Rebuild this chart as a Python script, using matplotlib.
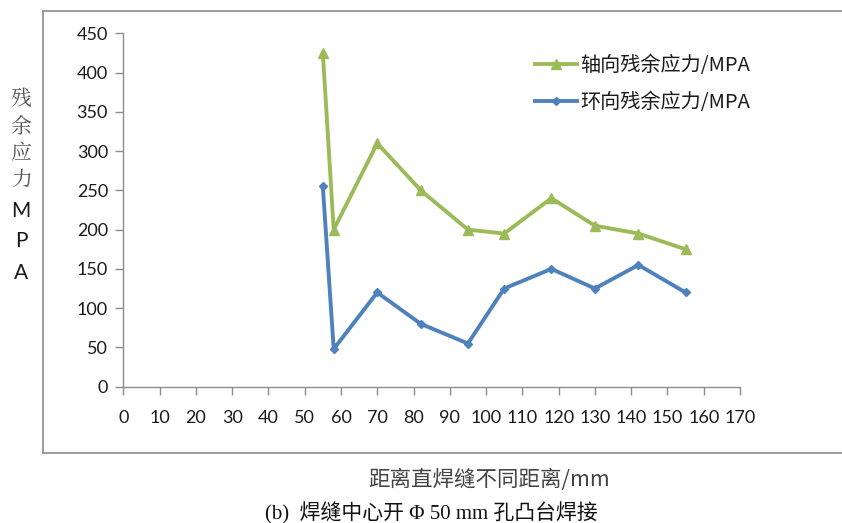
import matplotlib
matplotlib.use("Agg")
import matplotlib.pyplot as plt

# Data
x_axial = [55, 58, 70, 82, 95, 105, 118, 130, 142, 155]
y_axial = [425, 200, 310, 250, 200, 195, 240, 205, 195, 175]
x_hoop = [55, 58, 70, 82, 95, 105, 118, 130, 142, 155]
y_hoop = [255, 48, 120, 80, 55, 125, 150, 125, 155, 120]
label_axial = "轴向残余应力/MPA"
label_hoop = "环向残余应力/MPA"
ylabel_chars = ["残", "余", "应", "力", "M", "P", "A"]
xlabel = "距离直焊缝不同距离/mm"
caption = "(b)  焊缝中心开 Φ 50 mm 孔凸台焊接"
xticks = list(range(0, 171, 10))
yticks = list(range(0, 451, 50))

W, H = 842, 523
fig = plt.figure(figsize=(W / 100, H / 100), dpi=100)

def fx(px):
    return px / W

def fy(py):
    return 1 - py / H

# outer frame (open to the right like the reference)
fig.add_artist(plt.Line2D([fx(43), fx(43)], [fy(452.5), fy(11)], transform=fig.transFigure,
                          color="#8c8c8c", linewidth=1.2))
fig.add_artist(plt.Line2D([fx(43), 1.05], [fy(11), fy(11)], transform=fig.transFigure,
                          color="#8c8c8c", linewidth=1.2))
fig.add_artist(plt.Line2D([fx(43), 1.05], [fy(452.5), fy(452.5)], transform=fig.transFigure,
                          color="#8c8c8c", linewidth=1.2))

ax = fig.add_axes([fx(123.3), fy(386.7), fx(740) - fx(123.3), fy(33.3) - fy(386.7)])
green = "#9BBB59"
blue = "#4F81BD"
ax.plot(x_axial, y_axial, color=green, linewidth=2.8, marker="^", markersize=7,
        label=label_axial, clip_on=False)
ax.plot(x_hoop, y_hoop, color=blue, linewidth=2.8, marker="D", markersize=4.5,
        label=label_hoop, clip_on=False)

ax.set_xlim(0, 170)
ax.set_ylim(0, 450)
ax.set_xticks(xticks)
ax.set_yticks(yticks)
for s in ["top", "right"]:
    ax.spines[s].set_visible(False)
for s in ["left", "bottom"]:
    ax.spines[s].set_color("#8c8c8c")
    ax.spines[s].set_linewidth(1.0)
ax.tick_params(axis="both", direction="out", length=6, width=1.0, color="#8c8c8c",
               labelsize=13, labelcolor="#1a1a1a")
ax.tick_params(axis="x", pad=11)
ax.tick_params(axis="y", pad=5)
for lab in ax.get_xticklabels() + ax.get_yticklabels():
    lab.set_family(["Lato", "DejaVu Sans"])

leg = ax.legend(loc="center left", bbox_to_anchor=(fx(517), fy(84)),
                bbox_transform=fig.transFigure, frameon=False,
                prop={"family": ["Noto Sans CJK SC", "DejaVu Sans"], "size": 14.5},
                handlelength=2.1, handletextpad=0.15, labelspacing=0.8)
for t in leg.get_texts():
    t.set_color("#1a1a1a")

# vertical y label
ys = [99, 127.5, 153, 180, 211, 241, 273]
for ch, yy in zip(ylabel_chars, ys):
    fam = ["Noto Serif CJK SC", "Noto Sans CJK SC", "DejaVu Sans"] if ord(ch) > 255 else ["Lato", "DejaVu Sans"]
    col = "#555555" if ord(ch) > 255 else "#1a1a1a"
    fig.text(fx(21), fy(yy), ch, ha="center", va="center", fontsize=15,
             family=fam, color=col)

fig.text(fx(489), fy(480), xlabel, ha="center", va="center", fontsize=15.5,
         family=["Noto Sans CJK SC", "DejaVu Sans"], color="#444444")
fig.text(fx(431), fy(513), caption, ha="center", va="center", fontsize=15,
         family=["Liberation Serif", "Noto Sans CJK SC", "DejaVu Sans"], color="#111111")

fig.savefig("out.png", dpi=100)
